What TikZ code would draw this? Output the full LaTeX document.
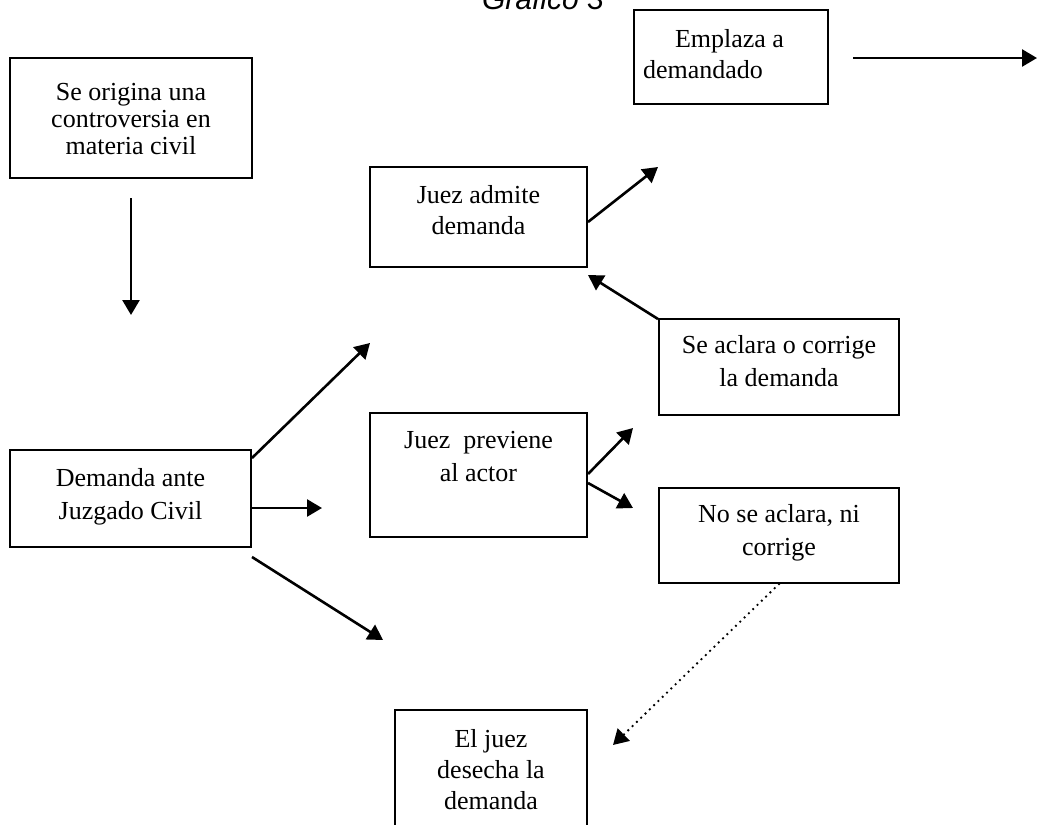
\documentclass[tikz,border=0pt]{standalone}
\usepackage{fontspec}
\setmainfont{Liberation Serif}
\setsansfont{Liberation Sans}
\usetikzlibrary{arrows.meta}
\newcommand{\bt}[5]{\parbox[c][#2pt][t]{#1pt}{\centering\fontsize{26}{#4}\selectfont\rule{0pt}{#3pt}#5}}
\begin{document}
\begin{tikzpicture}[x=1pt,y=-1pt,
  box/.style={draw, line width=2pt, inner sep=0pt},
  arr/.style={line width=2.6pt, -{Triangle[length=15pt,width=17pt]}},
  dotarr/.style={line width=2.6pt, line cap=round, dash pattern=on 0pt off 6pt, -{Triangle[length=15pt,width=17pt]}}]
\clip (0,0) rectangle (1037,825);
\fill[white] (0,0) rectangle (1037,825);
\node[anchor=base, font=\sffamily\itshape\fontsize{30}{36}\selectfont] (title) at (543,9) {Gráfico 3};
\node[box] (A) at (131,118) {\bt{242}{120}{42}{27}{Se origina una\\controversia en\\materia civil}};
\node[box] (B) at (130.5,498.5) {\bt{241}{97}{36}{33}{Demanda ante\\Juzgado Civil}};
\node[box] (C) at (731,57) {\parbox[c][94pt][t]{194pt}{\raggedright\leftskip 9pt\fontsize{26}{31}\selectfont\rule{0pt}{37pt}\hspace*{32pt}Emplaza a\\demandado}};
\node[box] (D) at (478.5,217) {\bt{217}{100}{36}{31}{Juez admite\\demanda}};
\node[box] (E) at (779,367) {\bt{240}{96}{34}{33}{Se aclara o corrige\\la demanda}};
\node[box] (F) at (478.5,475) {\bt{217}{124}{35}{33}{Juez\ \ previene\\al actor}};
\node[box] (G) at (779,535.5) {\bt{240}{95}{34}{33}{No se aclara, ni\\corrige}};
\node[box] (H) at (491,785) {\bt{192}{150}{37}{31}{El juez\\desecha la\\demanda}};
\coordinate (a1) at (131,315);
\coordinate (b1) at (370,343);
\coordinate (b2) at (322,508);
\coordinate (b3) at (383,640);
\coordinate (c1) at (1037,58);
\coordinate (d1) at (658,167);
\coordinate (e1) at (588,275);
\coordinate (f1) at (633,428);
\coordinate (f2) at (633,508);
\coordinate (g1) at (613,745);
\draw[arr] ([yshift=-19pt]A.south) -- (a1);
\draw[arr] ([yshift=-9pt]B.north east) -- (b1);
\draw[arr] ([yshift=-9.5pt]B.east) -- (b2);
\draw[arr] ([yshift=-9pt]B.south east) -- (b3);
\draw[arr] ([xshift=24pt,yshift=-1pt]C.east) -- (c1);
\draw[arr] ([yshift=-5pt]D.east) -- (d1);
\draw[arr] ([yshift=-1pt]E.north west) -- (e1);
\draw[arr] ([yshift=1pt]F.east) -- (f1);
\draw[arr] ([yshift=-8pt]F.east) -- (f2);
\draw[dotarr] (G.south) -- (g1);
\end{tikzpicture}
\end{document}
